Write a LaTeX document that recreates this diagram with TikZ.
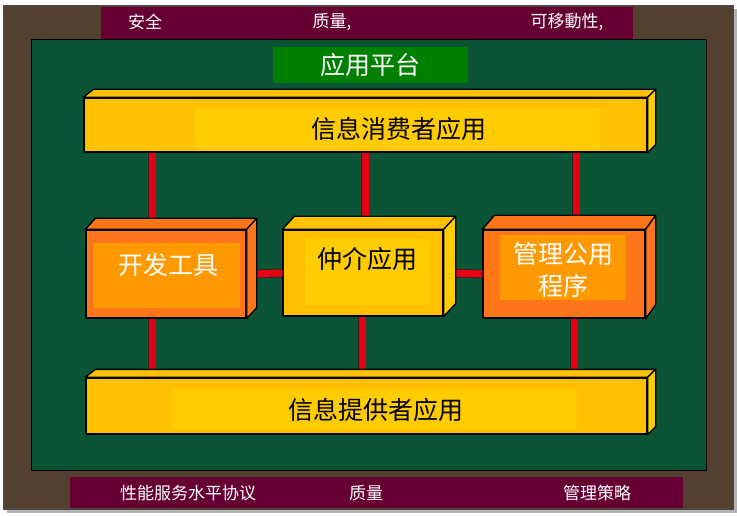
\documentclass[tikz,border=0pt]{standalone}
\usepackage{fontspec}
\setmainfont{Noto Sans CJK SC}
\usetikzlibrary{positioning,calc}

\definecolor{frameBrown}{RGB}{82,65,48}
\definecolor{barMaroon}{RGB}{102,0,51}
\definecolor{panelGreen}{RGB}{11,84,54}
\definecolor{platGreen}{RGB}{0,128,0}
\definecolor{boxYellow}{RGB}{255,192,0}
\definecolor{lightYellow}{RGB}{255,204,0}
\definecolor{boxOrange}{RGB}{255,117,25}
\definecolor{lightOrange}{RGB}{255,153,0}
\definecolor{linkRed}{RGB}{230,0,18}

\begin{document}
\begin{tikzpicture}[x=1pt, y=-1pt, line join=round,
    front/.style={draw=black, line width=1.3pt, inner sep=0pt},
    face/.style={draw=black, line width=1.3pt},
    link/.style={draw=black!85, line width=0.9pt, double=linkRed, double distance=7pt},
    barText/.style={text=white, font=\fontsize{17}{17}\selectfont},
    boxText/.style={font=\fontsize{25}{32}\selectfont, align=center}]
    \useasboundingbox (0,0) rectangle (737,516);

    % frame and bars
    \fill[black!30] (7,9) rectangle (737,513);
    \draw[fill=frameBrown, draw=black!70, line width=0.8pt] (3,5) rectangle (733,509);
    \fill[barMaroon] (101,7) rectangle (633,39);
    \draw[fill=panelGreen, draw=black, line width=1pt] (31,40) rectangle (706,470);
    \fill[barMaroon] (70,477) rectangle (683,508);

    \node[barText] (secure) at (145,22) {安全};
    \node[barText] (qualTop) at (332,22) {质量,};
    \node[barText] (mobile) at (567,22) {可移動性,};
    \node[barText] (sla) at (188,493) {性能服务水平协议};
    \node[barText] (qualBot) at (366,493) {质量};
    \node[barText] (policy) at (597,493) {管理策略};

    \node[fill=platGreen, minimum width=195pt, minimum height=36pt, inner sep=0pt] (platform) at (370.5,65) {};
    \node[text=white, font=\fontsize{25}{25}\selectfont] (platLabel) at (platform) {应用平台};

    % column coordinates for the red links
    \coordinate (colA) at (152,0);
    \coordinate (colB) at (365,0);
    \coordinate (colC) at (576,0);

    % front faces
    \node[front, fill=boxYellow, minimum width=563pt, minimum height=54pt] (consBox) at (365.5,125) {};
    \node[front, fill=boxOrange, minimum width=160pt, minimum height=88pt] (devBox) at (166,274) {};
    \node[front, fill=boxYellow, minimum width=160pt, minimum height=86pt] (midBox) at (363,273) {};
    \node[front, fill=boxOrange, minimum width=162pt, minimum height=88pt] (mgmtBox) at (564,274) {};
    \node[front, fill=boxYellow, minimum width=561pt, minimum height=56pt] (provBox) at (366.5,406) {};

    % links, under the side faces
    \draw[link] (consBox.south -| colA) -- ($(devBox.north -| colA)+(0,-6)$);
    \draw[link] (consBox.south -| colB) -- ($(midBox.north -| colB)+(0,-8)$);
    \draw[link] (consBox.south -| colC) -- ($(mgmtBox.north -| colC)+(0,-10)$);
    \draw[link] (devBox.south -| colA) -- ($(provBox.north -| colA)+(0,-2)$);
    \draw[link] ([xshift=-3pt]midBox.south -| colB) -- ($([xshift=-3pt]provBox.north -| colB)+(0,-2)$);
    \draw[link] ([xshift=-2pt]mgmtBox.south -| colC) -- ($([xshift=-2pt]provBox.north -| colC)+(0,-4)$);
    \draw[link] ([xshift=4pt]devBox.east) -- (midBox.west);
    \draw[link] ([xshift=7pt]midBox.east) -- (mgmtBox.west);

    % top and right faces
    \draw[face, fill=boxYellow] (consBox.north west) -- ++(10,-8) -- ($(consBox.north east)+(8,-8)$) -- (consBox.north east) -- cycle;
    \draw[face, fill=lightYellow] (consBox.north east) -- ++(8,-8) -- ($(consBox.south east)+(8,-8)$) -- (consBox.south east) -- cycle;
    \draw[face, fill=boxOrange] (devBox.north west) -- ++(10,-11) -- ($(devBox.north east)+(10,-11)$) -- (devBox.north east) -- cycle;
    \draw[face, fill=boxOrange] (devBox.north east) -- ++(10,-11) -- ($(devBox.south east)+(10,-11)$) -- (devBox.south east) -- cycle;
    \draw[face, fill=boxYellow] (midBox.north west) -- ++(12,-13) -- ($(midBox.north east)+(12,-13)$) -- (midBox.north east) -- cycle;
    \draw[face, fill=lightYellow] (midBox.north east) -- ++(12,-13) -- ($(midBox.south east)+(12,-13)$) -- (midBox.south east) -- cycle;
    \draw[face, fill=boxOrange] (mgmtBox.north west) -- ++(12,-14) -- ($(mgmtBox.north east)+(10,-14)$) -- (mgmtBox.north east) -- cycle;
    \draw[face, fill=boxOrange] (mgmtBox.north east) -- ++(10,-14) -- ($(mgmtBox.south east)+(10,-14)$) -- (mgmtBox.south east) -- cycle;
    \draw[face, fill=boxYellow] (provBox.north west) -- ++(10,-8) -- ($(provBox.north east)+(8,-8)$) -- (provBox.north east) -- cycle;
    \draw[face, fill=lightYellow] (provBox.north east) -- ++(8,-8) -- ($(provBox.south east)+(8,-8)$) -- (provBox.south east) -- cycle;

    % lighter panels and labels
    \fill[lightYellow] (195,108) rectangle (600,150);
    \fill[lightOrange] (93,243) rectangle (240,308);
    \fill[lightYellow] (305,239) rectangle (430,305);
    \fill[lightOrange] (500,235) rectangle (626,300);
    \fill[lightYellow] (172,390) rectangle (578,430);

    \node[boxText] (consumer) at (399,129) {信息消费者应用};
    \node[boxText, text=white] (devTools) at (168,265) {开发工具};
    \node[boxText] (broker) at (367,259) {仲介应用};
    \node[boxText, text=white] (mgmtTools) at (563,270) {管理公用\\程序};
    \node[boxText] (provider) at (376,410) {信息提供者应用};
\end{tikzpicture}
\end{document}
